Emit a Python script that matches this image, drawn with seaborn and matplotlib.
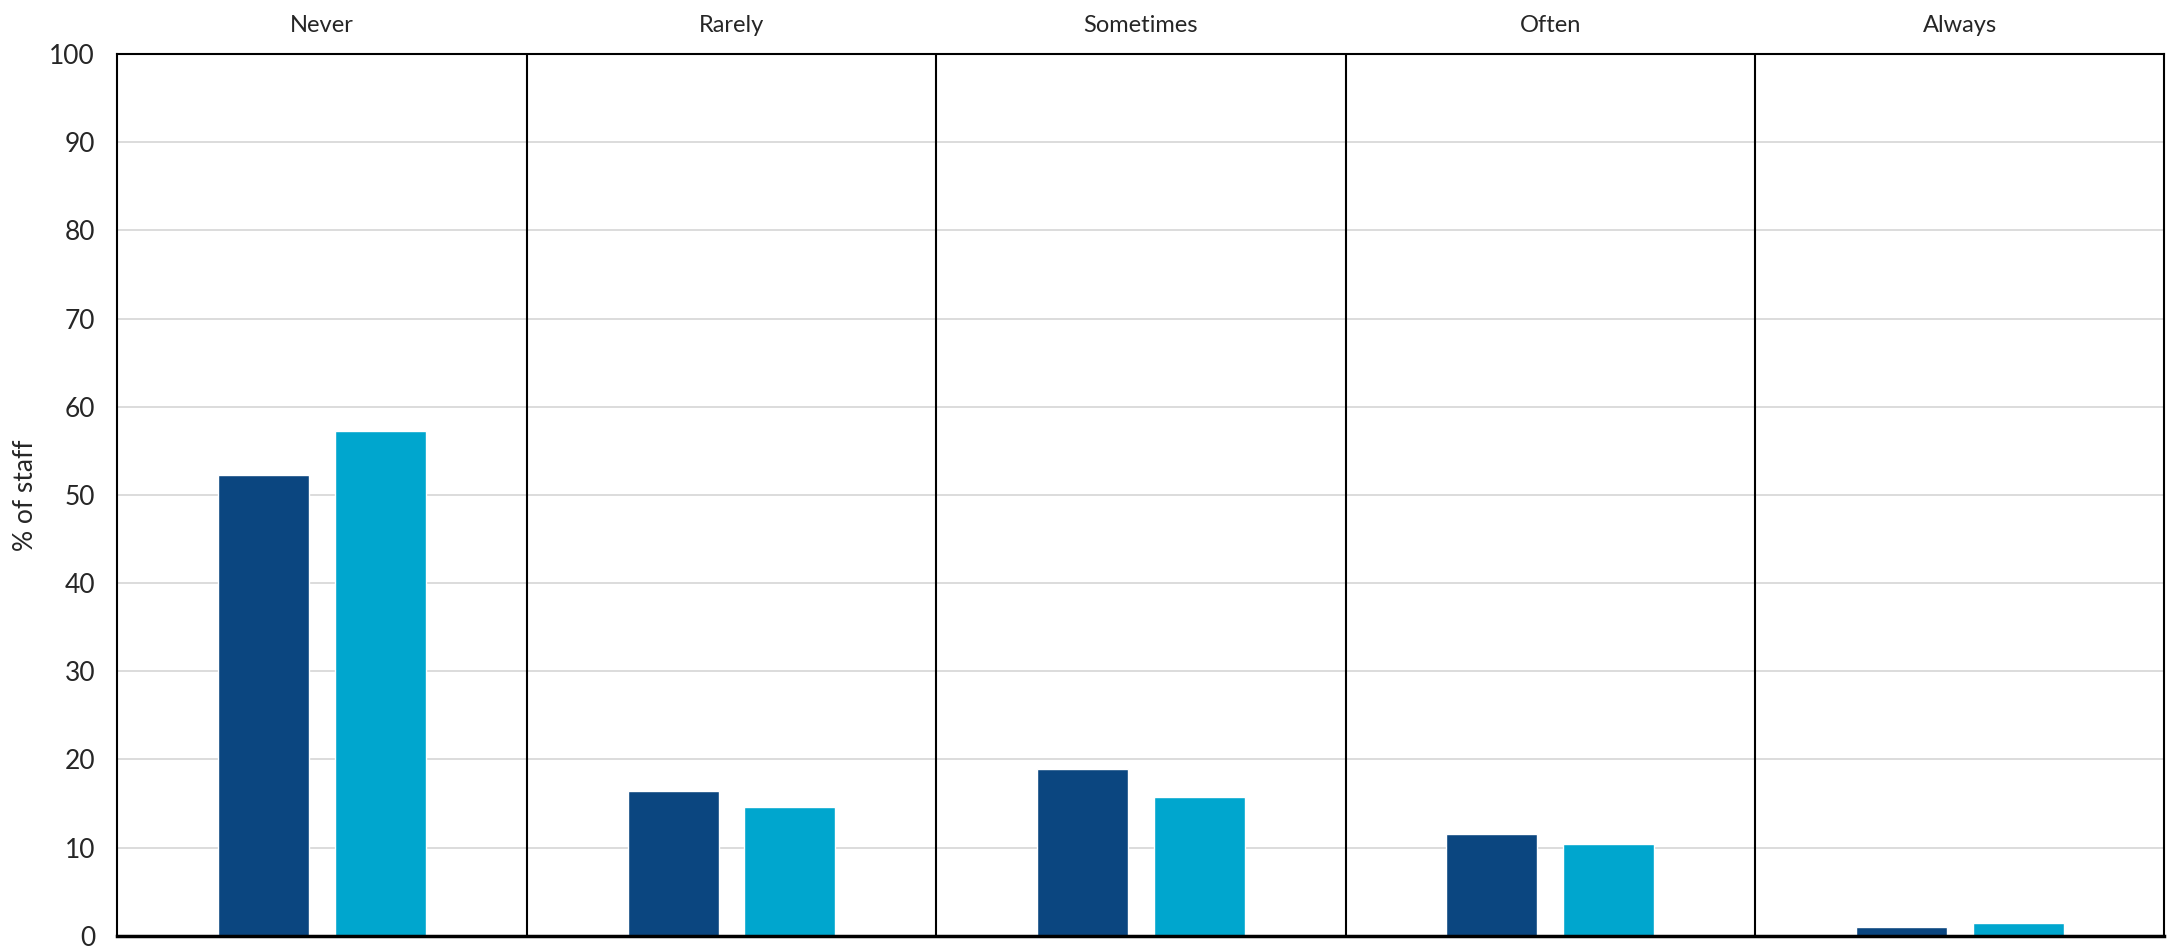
import pandas as pd
import matplotlib.pyplot as plt
import seaborn as sns

categories = ["Never", "Rarely", "Sometimes", "Often", "Always"]
series = ["Group A", "Group B"]
values_a = [52.2, 16.4, 18.9, 11.5, 1.0]
values_b = [57.2, 14.6, 15.7, 10.4, 1.4]
colors = ["#0B4680", "#00A6CE"]

df = pd.DataFrame({
    "category": categories * 2,
    "series": [series[0]] * 5 + [series[1]] * 5,
    "value": values_a + values_b,
})

sns.set_style("white")
plt.rcParams["font.family"] = ["Lato", "DejaVu Sans"]

fig, ax = plt.subplots(figsize=(21.72, 9.48), dpi=100)
fig.subplots_adjust(left=0.054, right=0.9965, top=0.943, bottom=0.013)

sns.barplot(data=df, x="category", y="value", hue="series", order=categories,
            hue_order=series, palette=colors, width=0.57, gap=0.22,
            saturation=1, legend=False, ax=ax)

ax.set_ylim(0, 100)
ax.set_xlim(-0.5, 4.5)
ax.set_yticks(range(0, 101, 10))
ax.tick_params(axis="y", labelsize=19, length=0, pad=16)
ax.yaxis.grid(True, color="#d9d9d9", linewidth=1.3)
ax.set_axisbelow(True)

# category names sit above the panels
ax.xaxis.tick_top()
ax.tick_params(axis="x", labelsize=17, length=0, pad=13)
ax.set_xlabel("")
ax.set_ylabel("% of staff", fontsize=19, labelpad=8)

for i in range(1, 5):
    ax.axvline(i - 0.5, color="black", linewidth=1.5)

for s in ax.spines.values():
    s.set_visible(True)
    s.set_color("black")
    s.set_linewidth(1.5)
ax.spines["bottom"].set_linewidth(2.5)

fig.savefig("out.png", dpi=100)
